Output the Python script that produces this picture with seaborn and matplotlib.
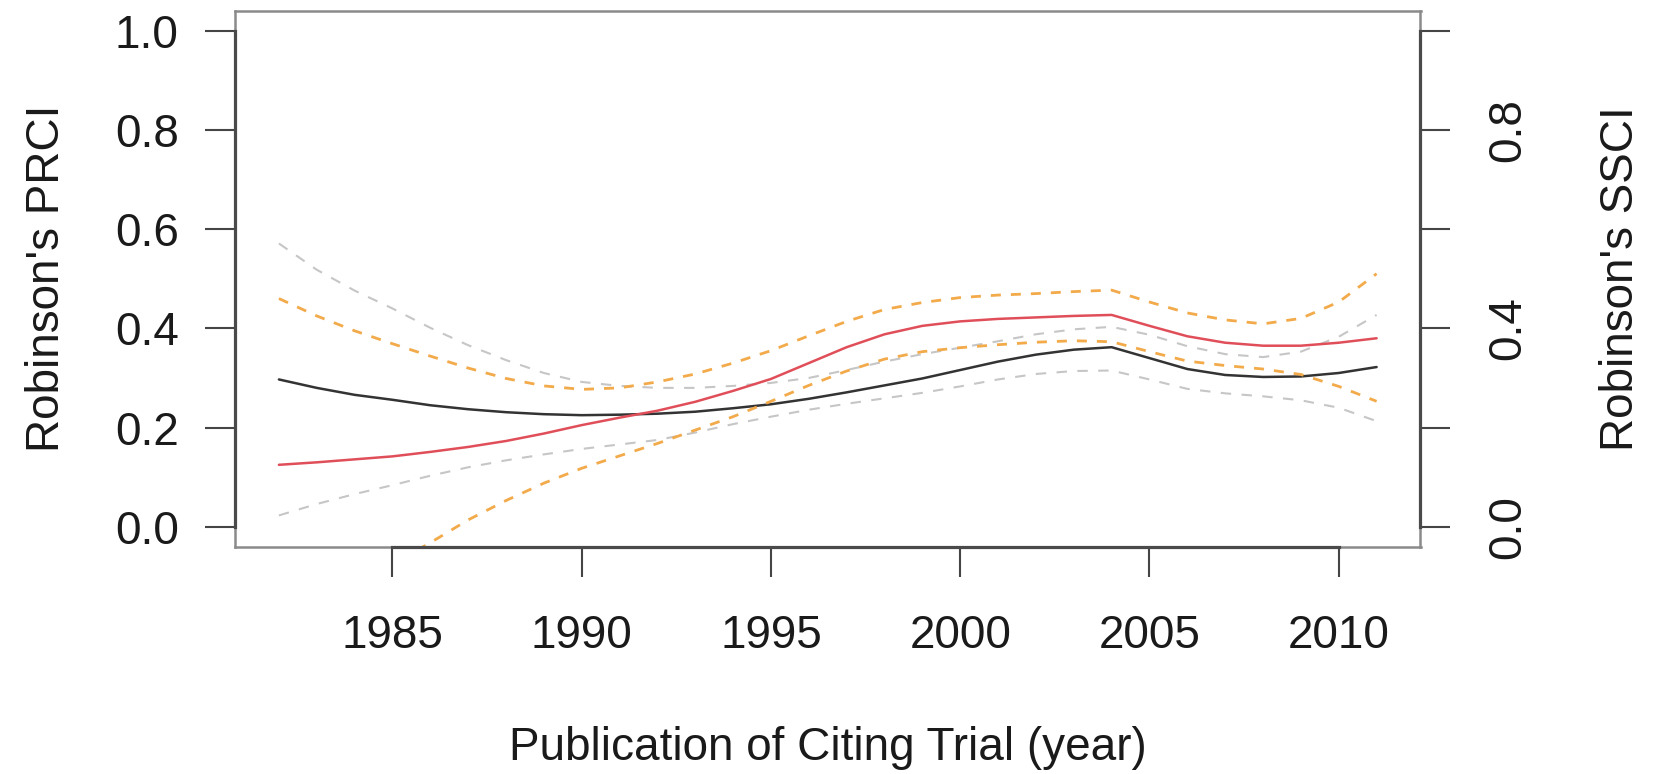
import matplotlib
matplotlib.use("Agg")
import matplotlib.pyplot as plt
import seaborn as sns
import pandas as pd

# ---- data ----
years = [1982, 1983, 1984, 1985, 1986, 1987, 1988, 1989, 1990, 1991,
         1992, 1993, 1994, 1995, 1996, 1997, 1998, 1999, 2000, 2001,
         2002, 2003, 2004, 2005, 2006, 2007, 2008, 2009, 2010, 2011]

prci = [0.297, 0.280, 0.266, 0.256, 0.245, 0.237, 0.231, 0.227, 0.225, 0.226,
        0.228, 0.232, 0.239, 0.247, 0.258, 0.271, 0.285, 0.299, 0.316, 0.333,
        0.347, 0.357, 0.362, 0.340, 0.318, 0.306, 0.302, 0.303, 0.310, 0.322]
prci_hi = [0.571, 0.518, 0.476, 0.440, 0.401, 0.366, 0.336, 0.310, 0.292, 0.284,
           0.280, 0.280, 0.284, 0.290, 0.300, 0.316, 0.333, 0.348, 0.361, 0.374,
           0.388, 0.398, 0.403, 0.387, 0.364, 0.348, 0.342, 0.353, 0.383, 0.427]
prci_lo = [0.023, 0.046, 0.066, 0.084, 0.103, 0.120, 0.134, 0.146, 0.157, 0.166,
           0.175, 0.190, 0.207, 0.222, 0.236, 0.248, 0.259, 0.270, 0.283, 0.297,
           0.308, 0.314, 0.315, 0.297, 0.278, 0.269, 0.263, 0.255, 0.240, 0.213]

ssci = [0.125, 0.130, 0.136, 0.142, 0.151, 0.161, 0.173, 0.188, 0.205, 0.220,
        0.234, 0.252, 0.274, 0.298, 0.330, 0.362, 0.388, 0.405, 0.414, 0.419,
        0.422, 0.425, 0.427, 0.405, 0.384, 0.371, 0.365, 0.365, 0.371, 0.380]
ssci_hi = [0.460, 0.425, 0.395, 0.369, 0.344, 0.320, 0.299, 0.284, 0.277, 0.280,
           0.292, 0.308, 0.330, 0.355, 0.385, 0.414, 0.438, 0.452, 0.462, 0.467,
           0.470, 0.474, 0.477, 0.453, 0.431, 0.417, 0.409, 0.420, 0.453, 0.510]
ssci_lo = [-0.210, -0.160, -0.115, -0.075, -0.032, 0.014, 0.053, 0.088, 0.118, 0.143,
           0.168, 0.195, 0.222, 0.253, 0.285, 0.314, 0.338, 0.353, 0.361, 0.367,
           0.372, 0.375, 0.373, 0.353, 0.334, 0.325, 0.318, 0.307, 0.283, 0.253]

x_ticks = [1985, 1990, 1995, 2000, 2005, 2010]
x_tick_labels = ["1985", "1990", "1995", "2000", "2005", "2010"]
y_ticks = [0.0, 0.2, 0.4, 0.6, 0.8, 1.0]
left_tick_labels = ["0.0", "0.2", "0.4", "0.6", "0.8", "1.0"]
right_tick_labels = ["0.0", "", "0.4", "", "0.8", ""]

x_label = "Publication of Citing Trial (year)"
left_label = "Robinson's PRCI"
right_label = "Robinson's SSCI"

# ---- style ----
sns.set_theme(style="white")
plt.rcParams["font.family"] = ["Liberation Sans", "DejaVu Sans"]
TXT = "#1a1a1a"
FS = 33

df = pd.DataFrame({"year": years, "prci": prci, "prci_hi": prci_hi, "prci_lo": prci_lo,
                   "ssci": ssci, "ssci_hi": ssci_hi, "ssci_lo": ssci_lo})

W, H = 1656, 774
fig = plt.figure(figsize=(W / 100, H / 100), dpi=100)
L, R, T, B = 235, 1420.5, 10.7, 546.7
ax = fig.add_axes([L / W, 1 - B / H, (R - L) / W, (B - T) / H])

def draw(col, color, lw, dash=None):
    sns.lineplot(data=df, x="year", y=col, ax=ax, color=color, linewidth=lw,
                 errorbar=None, legend=False)
    line = ax.lines[-1]
    if dash is not None:
        line.set_dashes(dash)
    line.set_solid_joinstyle("round")

draw("prci", "#333333", 1.8)
draw("prci_lo", "#c6c6c6", 1.5, (5, 5))
draw("prci_hi", "#c6c6c6", 1.5, (5, 5))
draw("ssci", "#e04f59", 1.8)
draw("ssci_hi", "#f2aa4a", 2.0, (3.6, 3.6))
draw("ssci_lo", "#f2aa4a", 2.0, (3.6, 3.6))

ax.set_xlim(1980.84, 2012.16)
ax.set_ylim(-0.04, 1.04)
ax.set_xticks(x_ticks)
ax.set_xticklabels(x_tick_labels)
ax.set_yticks(y_ticks)
ax.set_yticklabels(left_tick_labels)
ax.grid(False)

ax.tick_params(axis="both", which="major", direction="out", length=21.5, width=1.5,
               color="#454545", labelsize=FS, labelcolor=TXT,
               bottom=True, left=True, top=False, right=False)
ax.tick_params(axis="y", pad=19)
ax.tick_params(axis="x", pad=27)

for s in ax.spines.values():
    s.set_visible(True)
    s.set_color("#8a8a8a")
    s.set_linewidth(1.8)

ax.set_xlabel(x_label, fontsize=FS, color=TXT)
ax.set_ylabel(left_label, fontsize=FS, color=TXT)
ax.xaxis.label.set_va("center")
ax.yaxis.label.set_va("center")
ax.xaxis.set_label_coords(0.5, (B - 747.5) / (B - T))
ax.yaxis.set_label_coords((47.5 - L) / (R - L), 0.5)

# right axis (same scale)
ax2 = ax.twinx()
ax2.set_ylim(-0.04, 1.04)
ax2.set_yticks(y_ticks)
ax2.set_yticklabels(right_tick_labels, rotation=90, va="center")
ax2.tick_params(axis="y", direction="out", length=21.5, width=1.5, color="#454545",
                labelsize=FS, labelcolor=TXT, pad=26, right=True, left=False)
ax2.grid(False)
ax2.set_ylabel(right_label, fontsize=FS, color=TXT, rotation=90)
ax2.yaxis.label.set_va("center")
ax2.yaxis.set_label_coords((1620.7 - L) / (R - L), 0.5)

# axis lines (R style: from first to last tick), drawn over the box
for side in ["left", "right", "bottom"]:
    ax2.spines[side].set_visible(True)
    ax2.spines[side].set_color("#4a4a4a")
    ax2.spines[side].set_linewidth(2.3)
ax2.spines["left"].set_bounds(0.0, 1.0)
ax2.spines["right"].set_bounds(0.0, 1.0)
ax2.spines["bottom"].set_bounds(1985, 2010)
ax2.spines["top"].set_visible(False)

fig.savefig("out.png", dpi=100, facecolor="white")
